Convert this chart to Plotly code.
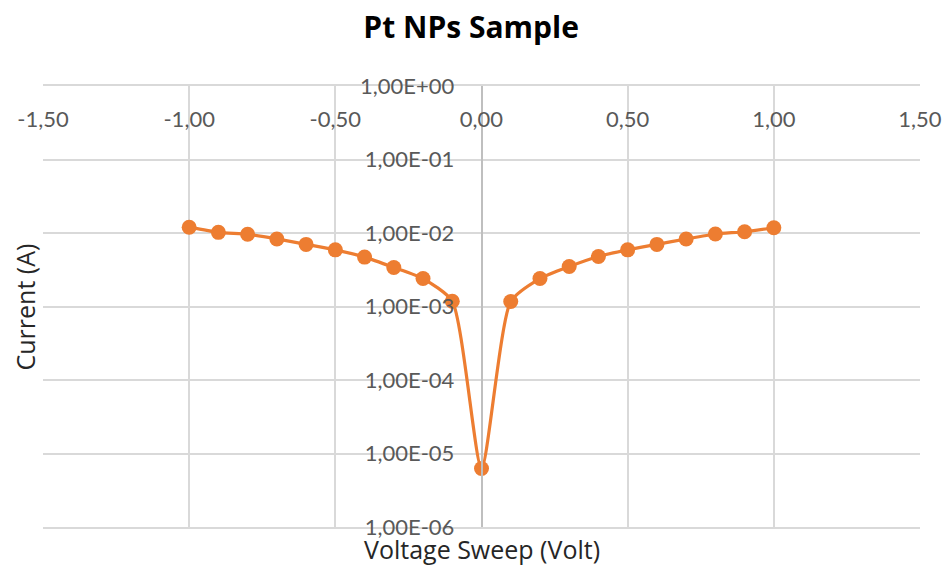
import plotly.graph_objects as go

# Current-voltage sweep of the Pt nanoparticle sample
voltage = [-1.0, -0.9, -0.8, -0.7, -0.6, -0.5, -0.4, -0.3, -0.2, -0.1, 0.0,
           0.1, 0.2, 0.3, 0.4, 0.5, 0.6, 0.7, 0.8, 0.9, 1.0]
current = [0.0120, 0.0102, 0.0096, 0.0083, 0.0070, 0.0059, 0.0047, 0.0034, 0.0024, 0.00118,
           6.25e-6,
           0.00117, 0.0024, 0.0035, 0.0048, 0.0059, 0.0070, 0.0083, 0.0097, 0.0104, 0.0118]

x_tick_vals = [-1.5, -1.0, -0.5, 0.0, 0.5, 1.0, 1.5]
x_tick_labels = ["-1,50", "-1,00", "-0,50", "0,00", "0,50", "1,00", "1,50"]
y_tick_vals = [1e-6, 1e-5, 1e-4, 1e-3, 1e-2, 1e-1, 1e0]
y_tick_labels = ["1,00E-06", "1,00E-05", "1,00E-04", "1,00E-03", "1,00E-02", "1,00E-01", "1,00E+00"]

ORANGE = "#ED7D31"
GRID = "#D9D9D9"
LABEL = "#595959"
FONT = "Lato"
TITLE_FONT = "Open Sans"

fig = go.Figure()
fig.add_trace(go.Scatter(
    x=voltage, y=current, mode="lines+markers",
    line=dict(color=ORANGE, width=3.2, shape="spline", smoothing=0.6),
    marker=dict(color=ORANGE, size=15),
    showlegend=False,
))

fig.update_layout(
    width=948, height=567,
    margin=dict(l=43, r=28, t=86, b=40),
    paper_bgcolor="white", plot_bgcolor="white",
    font=dict(family=FONT, size=22, color=LABEL),
    title=dict(text="<b>Pt NPs Sample</b>", x=0.497, xanchor="center",
               y=1 - 27 / 567, yanchor="middle",
               font=dict(family=TITLE_FONT, size=30, color="#000000")),
    xaxis=dict(
        range=[-1.5, 1.5], side="top", automargin=False,
        tickvals=x_tick_vals, ticktext=x_tick_labels,
        ticklabelposition="inside", ticklabeloverflow="allow",
        ticks="", ticklabelstandoff=27,
        showgrid=True, gridcolor=GRID, gridwidth=1.5,
        showline=True, linecolor=GRID, linewidth=1.5, mirror=True,
        zeroline=False,
        tickfont=dict(family=FONT, size=22, color=LABEL),
    ),
    yaxis=dict(
        type="log", range=[-6, 0], automargin=False,
        anchor="free", position=0.5,
        tickvals=y_tick_vals, ticktext=y_tick_labels,
        ticklabeloverflow="allow",
        ticks="", ticklabelstandoff=22,
        showgrid=True, gridcolor=GRID, gridwidth=1.5,
        showline=True, linecolor="#BFBFBF", linewidth=1.5,
        zeroline=False,
        tickfont=dict(family=FONT, size=22, color=LABEL),
    ),
    annotations=[
        dict(text="Voltage Sweep (Volt)", xref="paper", yref="paper",
             x=0.5, y=-22 / 441, xanchor="center", yanchor="middle",
             showarrow=False, font=dict(family=TITLE_FONT, size=25, color="#262626")),
        dict(text="Current (A)", xref="paper", yref="paper",
             x=-19 / 877, y=0.5 - 1 / 441, xanchor="center", yanchor="middle",
             textangle=-90, showarrow=False,
             font=dict(family=TITLE_FONT, size=25, color="#262626")),
    ],
)

fig.write_html("out.html")
